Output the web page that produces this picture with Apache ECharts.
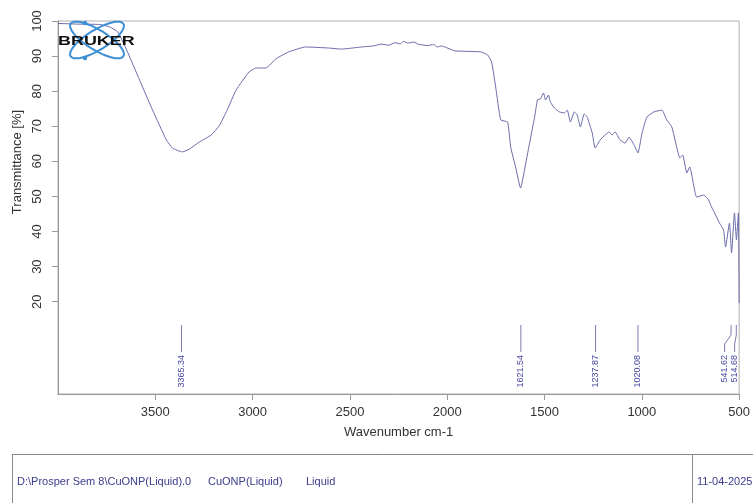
<!DOCTYPE html>
<html>
<head>
<meta charset="utf-8">
<script src="https://cdn.jsdelivr.net/npm/echarts@6/dist/echarts.min.js"></script>
<style>html,body{margin:0;padding:0;background:#fff;}#c{width:753px;height:503px;}</style>
</head>
<body>
<div id="c"></div>
<script>
// ---- data ----
const wavenumber = [4000, 3887, 3785, 3734, 3693, 3647, 3581, 3514, 3443, 3412, 3361, 3325, 3274, 3213, 3172, 3131, 3085, 3018, 2983, 2932, 2881, 2814, 2727, 2610, 2543, 2441, 2380, 2339, 2300, 2270, 2240, 2226, 2200, 2170, 2150, 2100, 2070, 2050, 2032, 1960, 1828, 1792, 1772, 1751, 1725, 1690, 1674, 1649, 1623, 1603, 1577, 1551, 1536, 1521, 1505, 1495, 1480, 1470, 1449, 1424, 1398, 1383, 1367, 1347, 1332, 1316, 1296, 1281, 1255, 1240, 1214, 1189, 1168, 1153, 1138, 1112, 1086, 1066, 1040, 1020, 999, 974, 938, 897, 872, 846, 821, 805, 790, 769, 754, 718, 682, 657, 642, 626, 601, 580, 570, 550, 539, 524, 514, 504, 500];
const transmittance = [99.3, 99.1, 99.0, 98.3, 96.9, 91.7, 83.2, 74.6, 66.1, 63.8, 62.7, 63.5, 65.5, 67.5, 70.1, 74.6, 80.3, 85.5, 86.6, 86.6, 89.2, 91.2, 92.6, 92.3, 92.0, 92.6, 92.9, 93.4, 93.1, 93.8, 93.5, 94.2, 93.7, 94.0, 93.4, 93.0, 93.3, 92.6, 92.9, 91.5, 91.2, 90.3, 88.3, 81.2, 71.8, 71.2, 64.1, 58.4, 52.4, 57.5, 65.2, 72.6, 77.5, 77.8, 79.5, 77.5, 78.9, 76.9, 75.2, 74.1, 73.8, 74.6, 71.2, 74.1, 73.2, 69.8, 73.5, 72.6, 68.1, 63.8, 66.1, 67.5, 68.4, 67.5, 68.4, 66.1, 65.2, 66.9, 64.7, 62.4, 68.1, 72.6, 74.1, 74.6, 71.8, 69.8, 64.1, 61.0, 61.8, 56.7, 58.4, 49.8, 50.4, 49.0, 47.0, 45.3, 42.4, 40.4, 35.6, 42.4, 33.9, 45.3, 37.6, 45.3, 19.6];
const peakWavenumbers = [3365.34, 1621.54, 1237.87, 1020.08, 541.62, 514.68];
const xTickLabels = [3500, 3000, 2500, 2000, 1500, 1000, 500];
const yTickLabels = [20, 30, 40, 50, 60, 70, 80, 90, 100];
const footerTexts = ["D:\\Prosper Sem 8\\CuONP(Liquid).0", "CuONP(Liquid)", "Liquid"];
const footerDate = "11-04-2025";

// ---- chart ----
const Y_MIN = -6.3, Y_MAX = 100;
const FONT = '"Liberation Sans", Arial, sans-serif';
const chart = echarts.init(document.getElementById('c'), null, {renderer: 'canvas'});

function ellipsePoints(cx, cy, a, b, rot) {
  const pts = [];
  for (let i = 0; i <= 72; i++) {
    const t = i / 72 * Math.PI * 2;
    const x = a * Math.cos(t), y = b * Math.sin(t);
    pts.push([cx + x * Math.cos(rot) - y * Math.sin(rot), cy + x * Math.sin(rot) + y * Math.cos(rot)]);
  }
  return pts;
}

const sortedPeaks = peakWavenumbers.slice().sort((a, b) => a - b);

const option = {
  animation: false,
  backgroundColor: '#ffffff',
  textStyle: {fontFamily: FONT},
  grid: {left: 58, right: 10, top: 21, bottom: 109, show: true, borderColor: '#b0b0b0', borderWidth: 1},
  xAxis: {
    type: 'value', inverse: true, min: 500, max: 4000, interval: 500,
    name: 'Wavenumber cm-1', nameLocation: 'middle', nameGap: 32,
    nameTextStyle: {fontSize: 13, color: '#333', fontFamily: FONT},
    axisLine: {show: true, onZero: false, lineStyle: {color: '#999'}},
    axisTick: {show: true, length: 6, lineStyle: {color: '#999'}, customValues: xTickLabels},
    axisLabel: {fontSize: 13, color: '#333', margin: 12, fontFamily: FONT, customValues: xTickLabels,
                formatter: v => String(v)},
    splitLine: {show: false}
  },
  yAxis: {
    type: 'value', min: Y_MIN, max: Y_MAX,
    axisLine: {show: true, onZero: false, lineStyle: {color: '#999'}},
    axisTick: {show: true, length: 6, lineStyle: {color: '#999'}, customValues: yTickLabels},
    axisLabel: {fontSize: 13, color: '#333', rotate: 90, margin: 14, fontFamily: FONT, customValues: yTickLabels,
                formatter: v => String(v)},
    splitLine: {show: false}
  },
  graphic: [
    {type: 'text', x: 17, y: 162, rotation: Math.PI / 2,
     style: {text: 'Transmittance [%]', font: '13px ' + FONT, fill: '#333', align: 'center', verticalAlign: 'middle'}},
    // Bruker logo
    {type: 'polyline', shape: {points: ellipsePoints(97, 40, 31, 10, 0.55)}, style: {stroke: '#3b8fd6', fill: null, lineWidth: 2}, z: 10},
    {type: 'polyline', shape: {points: ellipsePoints(97, 40, 31, 10, -0.55)}, style: {stroke: '#3b8fd6', fill: null, lineWidth: 2}, z: 10},
    {type: 'circle', shape: {cx: 85, cy: 23, r: 2.2}, style: {fill: '#3b8fd6'}, z: 10},
    {type: 'circle', shape: {cx: 85, cy: 58, r: 2.2}, style: {fill: '#3b8fd6'}, z: 10},
    {type: 'text', x: 58, y: 41, scaleX: 1.38, z: 11,
     style: {text: 'BRUKER', font: 'bold 13px ' + FONT, fill: '#111', align: 'left', verticalAlign: 'middle'}},
    // footer box
    {type: 'line', shape: {x1: 12, y1: 454.5, x2: 753, y2: 454.5}, style: {stroke: '#888', lineWidth: 1}},
    {type: 'line', shape: {x1: 12.5, y1: 454, x2: 12.5, y2: 503}, style: {stroke: '#888', lineWidth: 1}},
    {type: 'line', shape: {x1: 692.5, y1: 454, x2: 692.5, y2: 503}, style: {stroke: '#888', lineWidth: 1}},
    {type: 'text', x: 17, y: 482, style: {text: footerTexts[0], font: '11px ' + FONT, fill: '#3c3c8c', verticalAlign: 'middle'}},
    {type: 'text', x: 208, y: 482, style: {text: footerTexts[1], font: '11px ' + FONT, fill: '#3c3c8c', verticalAlign: 'middle'}},
    {type: 'text', x: 306, y: 482, style: {text: footerTexts[2], font: '11px ' + FONT, fill: '#3c3c8c', verticalAlign: 'middle'}},
    {type: 'text', x: 697, y: 482, style: {text: footerDate, font: '11px ' + FONT, fill: '#3c3c8c', verticalAlign: 'middle'}}
  ],
  series: [
    {
      type: 'line', showSymbol: false, smooth: 0.15,
      data: wavenumber.map((w, i) => [w, transmittance[i]]),
      lineStyle: {color: '#6c6cab', width: 1},
      z: 3
    },
    {
      type: 'custom', coordinateSystem: 'cartesian2d',
      data: peakWavenumbers.map(w => [w, 0]),
      clip: false,
      renderItem: function (params, api) {
        const w = api.value(0);
        const bottomPx = api.coord([w, Y_MIN])[1];
        const rightLimit = api.coord([500, 0])[0] - 4.5;
        let prev = null, lx = null;
        for (const pw of sortedPeaks) {
          const px = api.coord([pw, 0])[0];
          let l = Math.min(px, rightLimit);
          if (prev !== null) l = Math.min(l, prev - 10);
          prev = l;
          if (pw === w) lx = l;
        }
        const px = api.coord([w, 0])[0];
        const top = bottomPx - 69, bot = bottomPx - 42;
        const pts = Math.abs(px - lx) < 0.5
          ? [[px, top], [px, bot]]
          : [[px, top], [px, top + 10], [lx, top + 19], [lx, bot]];
        return {
          type: 'group',
          children: [
            {type: 'polyline', shape: {points: pts}, style: {stroke: '#7b7bae', fill: null, lineWidth: 1}},
            {type: 'text', x: lx, y: bottomPx - 39, rotation: Math.PI / 2,
             style: {text: w.toFixed(2), font: '9px ' + FONT, fill: '#4545a0', align: 'right', verticalAlign: 'middle'}}
          ]
        };
      }
    }
  ]
};
chart.setOption(option);
</script>
</body>
</html>
